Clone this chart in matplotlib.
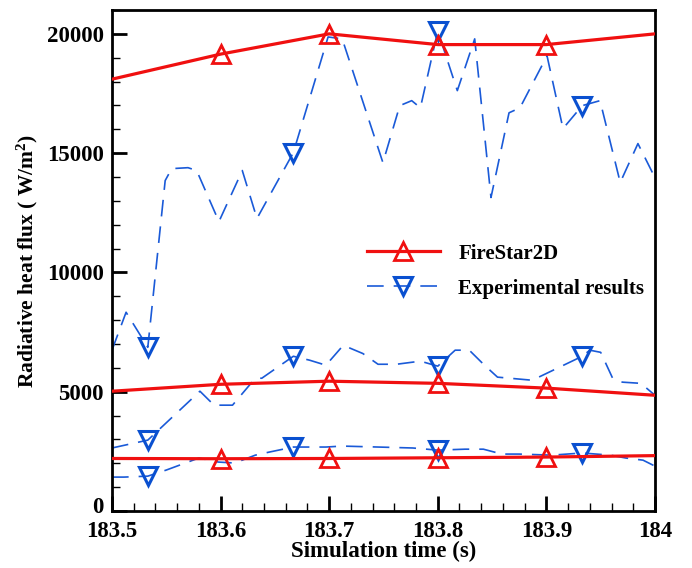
import numpy as np
import matplotlib
matplotlib.use("Agg")
import matplotlib.pyplot as plt
import matplotlib.transforms as mtransforms
from matplotlib.ticker import MultipleLocator, FuncFormatter

# ---------------- data ----------------
sim_time = [183.5, 183.6, 183.7, 183.8, 183.9, 184.0]
sim_upper = [18100, 19150, 20000, 19550, 19550, 20000]
sim_middle = [5020, 5310, 5440, 5350, 5150, 4850]
sim_lower = [2200, 2190, 2200, 2230, 2260, 2320]

exp_upper_t = [183.500, 183.513, 183.533, 183.549, 183.555, 183.570, 183.578,
               183.5985, 183.620, 183.6335, 183.667, 183.699, 183.712, 183.7495,
               183.765, 183.776, 183.784, 183.800, 183.818, 183.834, 183.849,
               183.8656, 183.8757, 183.9006, 183.9153, 183.933, 183.9494,
               183.968, 183.9843, 184.000]
exp_upper_v = [6740, 8330, 6860, 13850, 14350, 14390, 14270,
               12130, 14270, 12260, 15020, 19870, 19790, 14600,
               16990, 17200, 16900, 20125, 17620, 19790, 13140,
               16690, 16900, 19080, 16030, 16990, 17200,
               13770, 15400, 13970]

exp_middle_t = [183.500, 183.533, 183.581, 183.594, 183.611, 183.632, 183.638,
                183.667, 183.682, 183.697, 183.713, 183.731, 183.745, 183.762,
                183.784, 183.800, 183.816, 183.829, 183.843, 183.855, 183.887,
                183.933, 183.940, 183.950, 183.961, 183.970, 183.987, 184.000]
exp_middle_v = [2640, 2970, 5020, 4435, 4435, 5565, 5565,
                6485, 6320, 6110, 6945, 6600, 6150, 6150,
                6280, 6070, 6740, 6740, 6110, 5610, 5480,
                6485, 6740, 6650, 5565, 5400, 5350, 4850]

exp_lower_t = [183.500, 183.511, 183.533, 183.550, 183.580, 183.598, 183.613,
               183.632, 183.645, 183.667, 183.697, 183.712, 183.745, 183.777,
               183.800, 183.825, 183.842, 183.859, 183.875, 183.905, 183.933,
               183.959, 183.973, 183.989, 184.000]
exp_lower_v = [1420, 1420, 1460, 1715, 2220, 2050, 2010,
               2340, 2470, 2680, 2680, 2720, 2680, 2640,
               2550, 2590, 2590, 2385, 2385, 2340, 2430,
               2340, 2220, 2130, 1880]

exp_marker_times = [183.533, 183.667, 183.800, 183.933]
sim_marker_times = [183.6, 183.7, 183.8, 183.9]

x_ticks = [183.5, 183.6, 183.7, 183.8, 183.9, 184.0]
y_ticks = [0, 5000, 10000, 15000, 20000]

label_sim = "FireStar2D"
label_exp = "Experimental results"
x_label = "Simulation time (s)"
y_label = "Radiative heat flux ( W/m$^\\mathbf{2}$)"

# ---------------- style ----------------
plt.rcParams['font.family'] = ['Liberation Serif', 'DejaVu Serif']
plt.rcParams['font.weight'] = 'bold'
plt.rcParams['mathtext.fontset'] = 'custom'
plt.rcParams['mathtext.rm'] = 'Liberation Serif:bold'
plt.rcParams['mathtext.bf'] = 'Liberation Serif:bold'
plt.rcParams['mathtext.it'] = 'Liberation Serif:bold'

RED = '#f01010'
BLUE = '#1a5ad8'

fig = plt.figure(figsize=(6.92, 5.68), dpi=100)
ax = fig.add_axes([0.1618, 0.1004, 0.7847, 0.8820])


def idx_of(ts, marks):
    ts = np.asarray(ts)
    return [int(np.argmin(np.abs(ts - m))) for m in marks]


for i, (t, v) in enumerate([(exp_upper_t, exp_upper_v),
                             (exp_middle_t, exp_middle_v),
                             (exp_lower_t, exp_lower_v)]):
    ax.plot(t, v, color=BLUE, lw=1.2, dashes=(10.0, 6.0),
            marker='v', markevery=idx_of(t, exp_marker_times),
            markersize=13.5, markerfacecolor='none', markeredgecolor='#0a50d0',
            markeredgewidth=2.2, label=label_exp if i == 0 else None, zorder=2)

for i, v in enumerate([sim_upper, sim_middle, sim_lower]):
    ax.plot(sim_time, v, color=RED, lw=2.3, solid_joinstyle='round',
            marker='^', markevery=idx_of(sim_time, sim_marker_times),
            markersize=13.5, markerfacecolor='none', markeredgecolor=RED,
            markeredgewidth=2.0, label=label_sim if i == 0 else None, zorder=3)

ax.set_xlim(183.5, 184.0)
ax.set_ylim(0, 21000)
ax.set_xticks(x_ticks)
ax.set_yticks(y_ticks)
ax.xaxis.set_minor_locator(MultipleLocator(0.02))
ax.yaxis.set_minor_locator(MultipleLocator(1000))
ax.xaxis.set_major_formatter(FuncFormatter(lambda x, p: '%g' % round(x, 3)))

ax.tick_params(which='both', direction='in', top=False, right=False,
               labelsize=16.5)
ax.tick_params(axis='x', which='both', pad=7.5)
ax.tick_params(axis='y', which='both', pad=6)
ax.tick_params(which='major', length=11, width=2.0)
ax.tick_params(which='minor', length=6, width=1.0)
for lab in ax.get_xticklabels() + ax.get_yticklabels():
    lab.set_fontweight('bold')
for s in ax.spines.values():
    s.set_linewidth(2.0)

# lift the "0" label slightly so it just clears "183.5" (as in the reference)
fig.canvas.draw()
zero_lab = ax.yaxis.get_major_ticks()[0].label1
zero_lab.set_transform(zero_lab.get_transform() +
                       mtransforms.ScaledTranslation(0, 4 / 72, fig.dpi_scale_trans))

ax.set_xlabel(x_label, fontsize=16.5, fontweight='bold', labelpad=-1)
ax.set_ylabel(y_label, fontsize=15.5, fontweight='bold', labelpad=5)

handles, labels = ax.get_legend_handles_labels()
order = [labels.index(label_sim), labels.index(label_exp)]
leg = ax.legend([handles[k] for k in order], [labels[k] for k in order],
                loc='center left', bbox_to_anchor=(0.45, 0.479),
                frameon=False, handlelength=3.5,
                handletextpad=0.9, labelspacing=0.72, borderpad=0,
                prop={'weight': 'bold', 'size': 15})

fig.savefig('out.png', dpi=100)
